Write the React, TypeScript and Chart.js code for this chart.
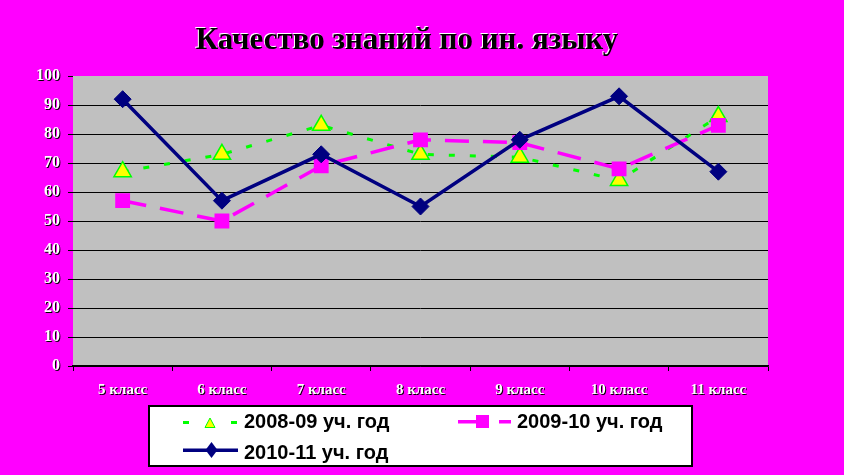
import React, { useEffect, useRef } from 'react';
import { Chart, registerables } from 'chart.js';

Chart.register(...registerables);

const TITLE = 'Качество знаний по ин. языку';
const categories = ['5 класс', '6 класс', '7 класс', '8 класс', '9 класс', '10 класс', '11 класс'];
const seriesNames = ['2008-09 уч. год', '2009-10 уч. год', '2010-11 уч. год'];
const values2008 = [67, 73, 83, 73, 72, 64, 86];
const values2009 = [57, 50, 69, 78, 77, 68, 83];
const values2010 = [92, 57, 73, 55, 78, 93, 67];
const yMin = 0;
const yMax = 100;
const yStep = 10;

const MAGENTA = '#FF00FF';
const GRAY = '#C0C0C0';
const GREEN = '#00FF00';
const YELLOW = '#FFFF00';
const NAVY = '#000080';
const SERIF = "'Liberation Serif', 'Times New Roman', serif";
const SANS = "'Liberation Sans', Arial, sans-serif";

const decorPlugin = {
  id: 'decor',
  beforeDraw(chart: any) {
    const { ctx, chartArea: a } = chart;
    ctx.save();
    ctx.fillStyle = MAGENTA;
    ctx.fillRect(0, 0, chart.width, chart.height);
    ctx.fillStyle = GRAY;
    ctx.fillRect(a.left, a.top, a.right - a.left, a.bottom - a.top);
    ctx.restore();
  },
  afterDatasetsDraw(chart: any) {
    const ctx = chart.ctx;
    ctx.shadowColor = '#000000';
    ctx.shadowOffsetX = 1;
    ctx.shadowOffsetY = 1;
    ctx.shadowBlur = 0;
  },
  afterDraw(chart: any) {
    const ctx = chart.ctx;
    ctx.shadowColor = 'rgba(0,0,0,0)';
    ctx.shadowOffsetX = 0;
    ctx.shadowOffsetY = 0;
    ctx.save();
    // title
    ctx.font = `bold 31px ${SERIF}`;
    ctx.textAlign = 'center';
    ctx.textBaseline = 'alphabetic';
    ctx.fillStyle = '#FFFFFF';
    ctx.fillText(TITLE, 406, 48);
    ctx.fillStyle = '#000000';
    ctx.fillText(TITLE, 407, 49);

    // legend box
    ctx.fillStyle = '#FFFFFF';
    ctx.fillRect(148, 405, 545, 62);
    ctx.strokeStyle = '#000000';
    ctx.lineWidth = 2;
    ctx.strokeRect(149, 406, 543, 60);

    // item 1 symbol
    ctx.fillStyle = GREEN;
    ctx.fillRect(183, 421, 6, 3);
    ctx.fillRect(231, 421, 6, 3);
    ctx.beginPath();
    ctx.moveTo(210, 418);
    ctx.lineTo(205, 427.5);
    ctx.lineTo(215, 427.5);
    ctx.closePath();
    ctx.fillStyle = YELLOW;
    ctx.fill();
    ctx.strokeStyle = GREEN;
    ctx.lineWidth = 1;
    ctx.stroke();

    // item 2 symbol
    ctx.fillStyle = MAGENTA;
    ctx.fillRect(458, 420, 18, 3.5);
    ctx.fillRect(476, 415, 13, 13);
    ctx.fillRect(499, 420, 12, 3.5);

    // item 3 symbol
    ctx.fillStyle = NAVY;
    ctx.fillRect(183, 448.5, 55, 3.5);
    ctx.beginPath();
    ctx.moveTo(211.5, 442);
    ctx.lineTo(217.5, 450);
    ctx.lineTo(211.5, 458);
    ctx.lineTo(205.5, 450);
    ctx.closePath();
    ctx.fill();

    // legend texts
    ctx.fillStyle = '#000000';
    ctx.font = `bold 20px ${SANS}`;
    ctx.textAlign = 'left';
    ctx.fillText(seriesNames[0], 244, 428);
    ctx.fillText(seriesNames[1], 517, 428);
    ctx.fillText(seriesNames[2], 244, 459);
    ctx.restore();
  },
};

export default function App() {
  const canvasRef = useRef<HTMLCanvasElement | null>(null);

  useEffect(() => {
    document.body.style.margin = '0';
    document.body.style.background = MAGENTA;
    const canvas = canvasRef.current;
    if (!canvas) return;
    const chart = new Chart(canvas, {
      type: 'line',
      data: {
        labels: categories,
        datasets: [
          {
            label: seriesNames[0],
            data: values2008,
            borderColor: GREEN,
            borderWidth: 3,
            borderDash: [6, 15],
            pointStyle: 'triangle',
            pointRadius: 10,
            pointBackgroundColor: YELLOW,
            pointBorderColor: GREEN,
            pointBorderWidth: 1.5,
            tension: 0,
            fill: false,
            order: 3,
          },
          {
            label: seriesNames[1],
            data: values2009,
            borderColor: MAGENTA,
            borderWidth: 3.5,
            borderDash: [24, 14],
            pointStyle: 'rect',
            pointRadius: 10.5,
            pointBackgroundColor: MAGENTA,
            pointBorderColor: MAGENTA,
            pointBorderWidth: 0,
            tension: 0,
            fill: false,
            order: 2,
          },
          {
            label: seriesNames[2],
            data: values2010,
            borderColor: NAVY,
            borderWidth: 3.5,
            pointStyle: 'rectRot',
            pointRadius: 8.5,
            pointBackgroundColor: NAVY,
            pointBorderColor: NAVY,
            pointBorderWidth: 1,
            tension: 0,
            fill: false,
            order: 1,
          },
        ],
      },
      options: {
        responsive: false,
        animation: false,
        events: [],
        layout: { padding: { top: 76, right: 76, bottom: 75, left: 0 } },
        plugins: {
          legend: { display: false },
          title: { display: false },
          tooltip: { enabled: false },
        },
        scales: {
          x: {
            type: 'category',
            offset: true,
            grid: {
              offset: true,
              drawOnChartArea: false,
              drawTicks: true,
              tickLength: 5,
              color: '#000000',
              lineWidth: 1,
            },
            border: { display: true, color: '#000000', width: 1.5 },
            ticks: {
              color: '#FFFFFF',
              font: { family: SERIF, size: 15, weight: 'bold' },
              padding: 10,
              maxRotation: 0,
              autoSkip: false,
              z: 1,
            },
            afterFit: (s: any) => {
              s.height = 34;
            },
          },
          y: {
            min: yMin,
            max: yMax,
            ticks: {
              stepSize: yStep,
              color: '#FFFFFF',
              font: { family: SERIF, size: 16, weight: 'bold' },
              padding: 8,
              z: 1,
            },
            grid: {
              color: (c: any) => (c.tick && c.tick.value === yMax ? 'rgba(0,0,0,0)' : '#000000'),
              tickColor: '#000000',
              tickLength: 5,
              lineWidth: 1,
            },
            border: { display: false },
            afterFit: (s: any) => {
              s.width = 73;
            },
          },
        },
      },
      plugins: [decorPlugin],
    } as any);
    return () => chart.destroy();
  }, []);

  return (
    <div style={{ position: 'fixed', left: 0, top: 0, width: 844, height: 475, background: MAGENTA }}>
      <canvas ref={canvasRef} width={844} height={475} style={{ display: 'block', width: 844, height: 475 }} />
    </div>
  );
}
